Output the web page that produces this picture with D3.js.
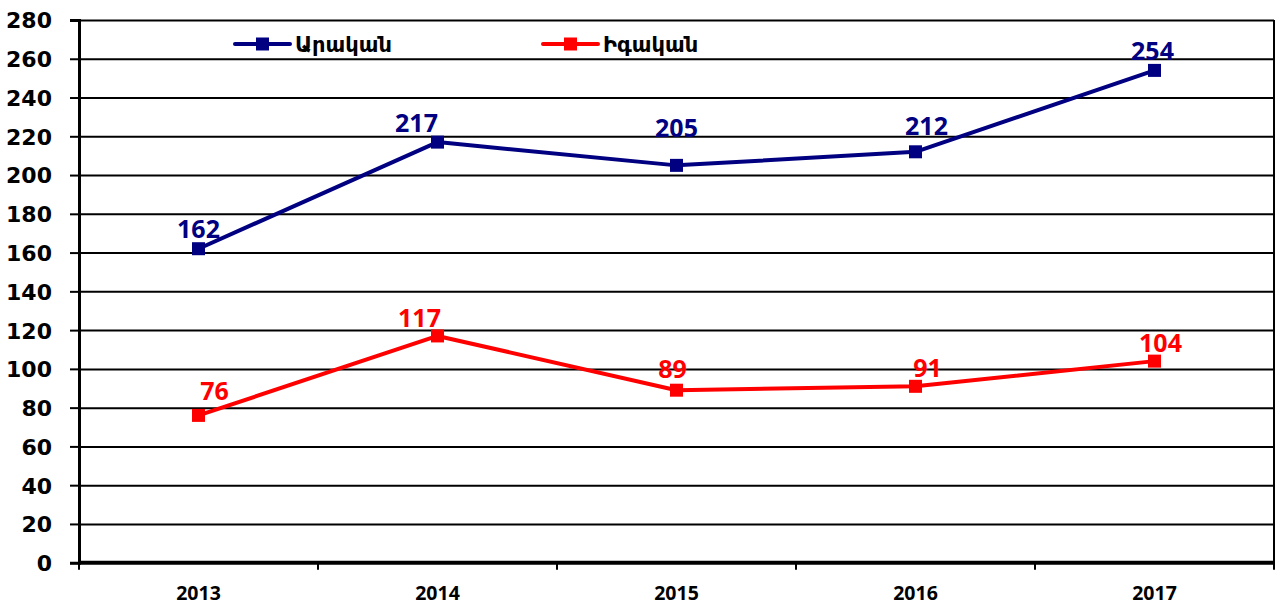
<!DOCTYPE html>
<html lang="hy">
<head>
<meta charset="UTF-8">
<title>Chart</title>
<script src="https://cdn.jsdelivr.net/npm/d3@7"></script>
<style>
  body { margin: 0; background: #fff; }
  svg text { font-family: "Noto Sans", sans-serif; font-weight: bold; }
  .ytick text, .legend text { font-family: "DejaVu Sans", Verdana, sans-serif; }
  .grid line { stroke: #000; stroke-width: 2; }
  .grid path { display: none; }
</style>
</head>
<body>
<svg id="chart" width="1276" height="606"></svg>
<script>
const years = ["2013", "2014", "2015", "2016", "2017"];
const male = [162, 217, 205, 212, 254];
const female = [76, 117, 89, 91, 104];
const seriesNames = ["Արական", "Իգական"];
const seriesColors = ["#000080", "#ff0000"];
const yTicks = [0, 20, 40, 60, 80, 100, 120, 140, 160, 180, 200, 220, 240, 260, 280];

// label nudges [dx, gap above point], per series
const labelNudge = [
  [[0, 11], [-21, 10], [0, 28], [11, 17], [-2, 10]],
  [[16, 15], [-18, 9], [-4, 12], [12, 9], [6, 9]]
];

const plotL = 79, plotR = 1274, plotT = 20, plotB = 562.7;
const svg = d3.select("#chart");

const x = d3.scaleBand().domain(years).range([plotL, plotR]);
const y = d3.scaleLinear().domain([0, 280]).range([plotB, plotT]);
const cx = i => x(years[i]) + x.bandwidth() / 2;

// horizontal grid lines
svg.append("g").attr("class", "grid")
  .attr("transform", `translate(${plotL},0)`)
  .call(d3.axisRight(y).tickValues(yTicks.slice(1)).tickSize(plotR - plotL).tickFormat(""));

// right border
svg.append("line").attr("x1", plotR).attr("x2", plotR).attr("y1", plotT).attr("y2", plotB + 6)
  .attr("stroke", "#000").attr("stroke-width", 2);

// y axis
const yAxis = svg.append("g").attr("class", "ytick").attr("transform", `translate(${plotL},0)`)
  .call(d3.axisLeft(y).tickValues(yTicks).tickSize(9).tickPadding(18));
yAxis.select(".domain").attr("stroke-width", 3);
yAxis.selectAll(".tick line").attr("stroke-width", 2);
yAxis.selectAll("text").attr("font-size", 22).attr("fill", "#000").attr("dy", "0.36em");

// x axis with ticks at band boundaries
const xAxis = svg.append("g").attr("transform", `translate(0,${plotB})`);
xAxis.append("line").attr("x1", plotL).attr("x2", plotR).attr("stroke", "#000").attr("stroke-width", 4);
const bounds = years.map(d => x(d)).concat([plotR]);
xAxis.selectAll(".bt").data(bounds).join("line")
  .attr("x1", d => d).attr("x2", d => d).attr("y1", 0).attr("y2", 7)
  .attr("stroke", "#000").attr("stroke-width", 2);
xAxis.selectAll(".xl").data(years).join("text")
  .attr("x", d => x(d) + x.bandwidth() / 2).attr("y", 37.5)
  .attr("text-anchor", "middle").attr("font-size", 19.5).attr("fill", "#000")
  .text(d => d);

const line = d3.line().x((d, i) => cx(i)).y(d => y(d));
const series = [male, female];

series.forEach((vals, s) => {
  const g = svg.append("g");
  g.append("path").datum(vals).attr("d", line)
    .attr("fill", "none").attr("stroke", seriesColors[s]).attr("stroke-width", 4)
    .attr("stroke-linejoin", "round");
  g.selectAll("rect").data(vals).join("rect")
    .attr("x", (d, i) => cx(i) - 6.5)
    .attr("y", d => y(d) - 6.5).attr("width", 13).attr("height", 13)
    .attr("fill", seriesColors[s]);
  g.selectAll("text").data(vals).join("text")
    .attr("x", (d, i) => cx(i) + labelNudge[s][i][0])
    .attr("y", (d, i) => y(d) - labelNudge[s][i][1])
    .attr("text-anchor", "middle").attr("font-size", 25)
    .attr("fill", seriesColors[s]).text(d => d);
});

// legend
const legendX = [235, 543];
seriesNames.forEach((name, s) => {
  const g = svg.append("g").attr("class", "legend").attr("transform", `translate(${legendX[s]},44)`);
  g.append("line").attr("x1", 0).attr("x2", 55).attr("stroke", seriesColors[s])
    .attr("stroke-width", 4).attr("stroke-linecap", "round");
  g.append("rect").attr("x", 21).attr("y", -6.5).attr("width", 13).attr("height", 13)
    .attr("fill", seriesColors[s]);
  g.append("text").attr("x", 60).attr("y", 8).attr("font-size", 21).attr("fill", "#000").text(name);
});
</script>
</body>
</html>
